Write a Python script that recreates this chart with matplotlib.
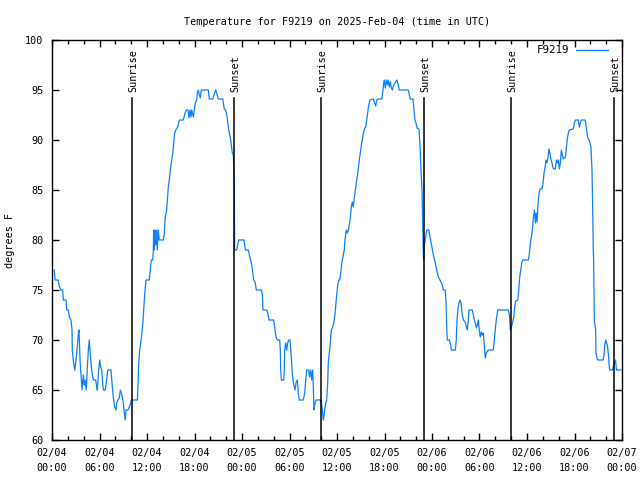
import matplotlib
matplotlib.use("Agg")
import matplotlib.pyplot as plt
from matplotlib.ticker import MultipleLocator

# hours since 2025-02-04 00:00 UTC
hours = [
    0.29, 0.38, 0.80, 0.88, 1.10, 1.35, 1.43, 1.77, 1.86, 2.06, 2.19, 2.40, 2.53, 2.56, 2.69,
    2.87, 2.99, 3.12, 3.32, 3.41, 3.54, 3.70, 3.79, 3.95, 4.08, 4.17, 4.33, 4.46, 4.59, 4.71,
    4.80, 4.89, 5.01, 5.22, 5.52, 5.65, 5.72, 5.90, 6.03, 6.15, 6.28, 6.40, 6.48, 6.73, 6.91,
    7.04, 7.45, 7.58, 7.74, 7.92, 8.08, 8.17, 8.34, 8.50, 8.63, 8.75, 8.88, 9.01, 9.13, 9.26,
    9.35, 9.60, 9.76, 9.94, 10.02, 10.78, 10.86, 10.95, 11.08, 11.20, 11.33, 11.46, 11.58, 11.75, 11.87,
    12.29, 12.42, 12.54, 12.72, 12.80, 12.84, 12.92, 13.01, 13.10, 13.23, 13.30, 13.43, 13.55, 14.06, 14.19,
    14.31, 14.44, 14.56, 14.69, 14.82, 14.94, 15.12, 15.25, 15.37, 15.50, 15.63, 15.88, 16.01, 16.13, 16.59,
    16.84, 17.01, 17.18, 17.31, 17.43, 17.56, 17.65, 17.85, 17.98, 18.10, 18.28, 18.36, 18.48, 18.61, 18.73,
    18.86, 19.74, 19.87, 20.30, 20.46, 20.68, 20.80, 21.01, 21.56, 21.63, 21.76, 21.94, 22.11, 22.27, 22.40,
    22.52, 22.65, 22.78, 22.90, 23.03, 23.07, 23.33, 23.58, 24.25, 24.42, 24.80, 24.93, 25.10, 25.27, 25.36,
    25.49, 25.65, 25.81, 26.44, 26.57, 26.65, 27.12, 27.25, 27.41, 28.00, 28.13, 28.30, 28.46, 28.76, 28.84,
    28.89, 28.97, 29.27, 29.34, 29.39, 29.52, 29.65, 29.77, 29.90, 30.06, 30.19, 30.35, 30.48, 30.61, 30.70,
    30.82, 30.99, 31.11, 31.24, 31.74, 31.92, 32.05, 32.17, 32.43, 32.55, 32.68, 32.80, 32.93, 33.01, 33.10,
    33.22, 33.35, 33.98, 34.14, 34.27, 34.40, 34.57, 34.70, 34.82, 34.90, 35.03, 35.15, 35.28, 35.46, 35.59,
    35.71, 35.84, 35.96, 36.09, 36.22, 36.34, 36.47, 36.60, 36.72, 36.85, 36.92, 36.97, 37.05, 37.18, 37.30,
    37.43, 37.55, 37.68, 37.81, 37.93, 38.06, 38.18, 38.36, 38.49, 38.62, 38.74, 38.87, 38.99, 39.12, 39.25,
    39.37, 39.50, 39.63, 39.75, 39.88, 40.01, 40.17, 40.59, 40.71, 40.89, 41.02, 41.22, 41.65, 41.77, 41.90,
    41.98, 42.10, 42.23, 42.36, 42.48, 42.61, 42.74, 42.86, 42.99, 43.16, 43.42, 43.58, 43.75, 43.87, 45.01,
    45.14, 45.26, 45.60, 45.72, 45.85, 45.98, 46.11, 46.36, 46.49, 46.61, 46.74, 46.83, 46.91, 46.96, 47.03,
    47.21, 47.33, 47.59, 47.75, 47.88, 48.09, 48.22, 48.42, 48.59, 48.80, 49.01, 49.14, 49.30, 49.43, 49.68,
    49.77, 49.86, 49.93, 50.19, 50.36, 50.44, 50.94, 51.07, 51.16, 51.29, 51.41, 51.54, 51.67, 51.83, 51.96,
    52.21, 52.34, 52.46, 52.59, 52.68, 53.09, 53.22, 53.35, 53.47, 53.60, 53.72, 53.85, 53.97, 54.10, 54.23,
    54.35, 54.48, 54.61, 54.73, 54.86, 55.11, 55.74, 55.87, 56.00, 56.12, 56.30, 57.64, 57.77, 57.90, 58.02,
    58.20, 58.33, 58.45, 58.58, 58.83, 58.96, 59.08, 59.21, 59.34, 59.46, 60.17, 60.30, 60.43, 60.55, 60.68,
    60.81, 60.94, 61.06, 61.15, 61.28, 61.40, 61.53, 61.65, 61.90, 62.03, 62.15, 62.28, 62.40, 62.53, 62.66,
    62.78, 62.91, 63.04, 63.16, 63.29, 63.41, 63.58, 63.71, 63.83, 63.96, 64.09, 64.21, 64.34, 64.47, 64.59,
    64.85, 64.97, 65.10, 65.23, 65.35, 65.85, 65.98, 66.11, 66.48, 66.61, 66.74, 66.86, 67.33, 67.45, 67.54,
    67.67, 67.83, 67.96, 68.08, 68.21, 68.30, 68.37, 68.42, 68.50, 68.67, 68.71, 68.84, 68.93, 69.60, 69.73,
    69.82, 69.95, 70.05, 70.15, 70.29, 70.37, 70.47, 70.80, 70.93, 71.05, 71.18, 71.30, 71.84,
]
temps = [
    77, 76, 76, 75.5, 75, 75, 74, 74, 73, 73, 72.3, 72, 71, 69, 68,
    67, 67.7, 68.7, 70.5, 71, 68, 66, 65, 66.5, 65.5, 66, 65, 67.2, 69, 70,
    69, 68, 67, 66, 66, 65.3, 65, 67, 68, 67.3, 67, 65.7, 65, 65, 66,
    67, 67, 65.7, 64.3, 63.3, 63, 63.7, 64, 64.2, 65, 64.7, 64.3, 63.7, 62.7, 62,
    63, 63, 63.3, 63.7, 64, 64, 65.3, 67.7, 69, 69.7, 70.5, 71.5, 73, 75, 76,
    76, 77, 78, 78, 79, 81, 79, 81, 79.5, 81, 79, 81, 80, 80, 80.7,
    82.3, 82.8, 83.8, 85.3, 86, 87, 88, 88.7, 89.7, 90.7, 91, 91.3, 91.8, 92, 92,
    92.8, 93, 93, 92.2, 93, 92.3, 93, 92.3, 93, 93.7, 94, 94.7, 95, 94.5, 94.2,
    95, 95, 94.1, 94.1, 94.5, 95, 94.7, 94.1, 94.1, 93.8, 93.1, 93, 92.3, 91.3, 90.7,
    90.3, 89.5, 88.7, 88.5, 86, 79, 79, 80, 80, 79, 79, 78.5, 78, 77.3, 76.7,
    76, 75.8, 75, 75, 74.5, 73, 73, 72.7, 72, 72, 71.3, 70.3, 70, 70, 69,
    67, 66, 66, 67, 69, 69.7, 69, 69.7, 70, 70, 68.7, 66.7, 65.7, 65.3, 65,
    65.7, 66, 64.7, 64, 64, 64.7, 66, 67, 67, 66.3, 67, 66, 67, 65, 63,
    63.7, 64, 64, 63, 62, 62.7, 63.7, 64, 65.7, 67.7, 68.7, 69.7, 71, 71.3, 71.7,
    72.3, 73.5, 74.5, 75.5, 76, 76, 76.7, 77.7, 78.2, 78.7, 79, 79.7, 80.3, 81, 80.7,
    81, 81.5, 82.2, 83.3, 83.8, 83.3, 84.2, 85.2, 86, 86.7, 87.5, 88.3, 89, 89.7, 90.3,
    90.8, 91.2, 91.3, 92, 92.7, 93.5, 94, 94.1, 93.8, 93.4, 94, 94.1, 94.1, 94.7, 95.7,
    96, 95.2, 96, 95.5, 96, 95.3, 95.8, 95.2, 95, 95.5, 95.8, 96, 95.4, 95, 95,
    94.5, 94.1, 94.1, 93, 92, 91.7, 91.2, 91.1, 89.3, 87, 85, 81.7, 78.3, 78, 79.5,
    80.3, 81, 81, 80.3, 79.7, 78.8, 78.3, 77.7, 77, 76.3, 76, 75.8, 75.5, 75, 75,
    73.7, 71.3, 70, 70, 69.5, 69, 69, 70, 72, 73.2, 73.7, 74, 73.7, 72.5, 72,
    71.8, 71.3, 71, 72, 73, 73, 72.5, 72, 71.7, 71.2, 71.5, 72, 71, 70.3, 70.8,
    70.5, 70.7, 69.5, 68.2, 68.7, 69, 69, 70, 71, 72, 73, 73, 72.5, 71, 71.3,
    71.8, 72.3, 73.3, 73.9, 74, 75, 76.3, 77, 77.7, 78, 78, 78.7, 79.7, 80.3, 81,
    82.3, 83, 81.7, 82.7, 81.8, 83.7, 84.7, 85.1, 85.1, 85.7, 86.7, 87.3, 88, 87.7, 88.3,
    89.1, 88.6, 88, 87.7, 87.2, 87.1, 87.1, 88, 87.7, 88, 87.1, 87.7, 89, 88.5, 88.1,
    88.3, 89.2, 90.2, 90.7, 91, 91.1, 91.7, 92, 92, 91.3, 91.7, 92, 92, 91.5, 91,
    90.2, 90, 89.7, 89.3, 87, 83, 79, 78, 72, 71, 68.7, 68.2, 68, 68, 68.5,
    69.5, 70, 69.7, 69.5, 68.5, 67.5, 67, 67, 67.5, 67.7, 68, 67, 67,
]

sunrise = [10.14, 34.02, 58.02]
sunset = [23.03, 47.03, 71.03]
x_ticks = list(range(0, 73, 6))
x_labels = ["02/04\n00:00", "02/04\n06:00", "02/04\n12:00", "02/04\n18:00",
            "02/05\n00:00", "02/05\n06:00", "02/05\n12:00", "02/05\n18:00",
            "02/06\n00:00", "02/06\n06:00", "02/06\n12:00", "02/06\n18:00",
            "02/07\n00:00"]

plt.rcParams['font.family'] = ['DejaVu Sans Mono']
plt.rcParams['font.size'] = 7.3

fig = plt.figure(figsize=(6.4, 4.8), dpi=100)
ax = fig.add_axes([52 / 640, 40 / 480, 570 / 640, 400 / 480])

ax.plot(hours, temps, color='#0a80ff', lw=0.9, label='F9219')

# sunrise / sunset markers
for h in sunrise:
    ax.plot([h, h], [60, 94.2], color='black', lw=1.1)
    ax.text(h + 0.15, 94.8, 'Sunrise', rotation=90, ha='center', va='bottom')
for h in sunset:
    ax.plot([h, h], [60, 94.2], color='black', lw=1.1)
    ax.text(h + 0.15, 94.8, 'Sunset', rotation=90, ha='center', va='bottom')

ax.set_xlim(0, 72)
ax.set_ylim(60, 100)
ax.set_xticks(x_ticks)
ax.set_xticklabels(x_labels, linespacing=1.6)
ax.xaxis.set_minor_locator(MultipleLocator(2))
ax.yaxis.set_major_locator(MultipleLocator(5))
ax.tick_params(which='both', direction='in', top=True, right=True, width=1)
ax.tick_params(which='major', length=5, pad=6)
ax.tick_params(which='minor', length=3)
for s in ax.spines.values():
    s.set_linewidth(1)

fig.text(10 / 640, 0.5, 'degrees F', rotation=90, ha='center', va='center')
ax.set_title('Temperature for F9219 on 2025-Feb-04 (time in UTC)', fontsize=7.3, pad=11)

ax.legend(loc='upper right', bbox_to_anchor=(0.985, 1.0), frameon=False,
          markerfirst=False, handlelength=3.0, handletextpad=0.6,
          borderaxespad=0.1, fontsize=7.8)

fig.savefig('out.png', dpi=100)
